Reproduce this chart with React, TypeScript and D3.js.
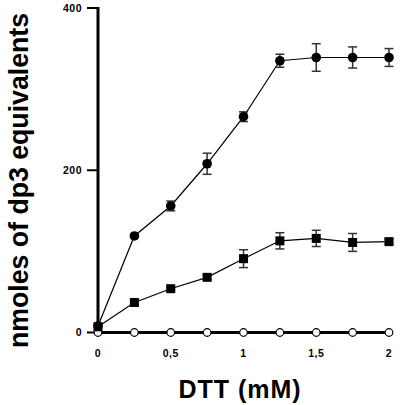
import React from "react";
import * as d3 from "d3";

const doses = [0, 0.25, 0.5, 0.75, 1, 1.25, 1.5, 1.75, 2];
const filledCircle = [8, 119, 156, 208, 266, 335, 339, 339, 339];
const filledCircleErr = [0, 2, 6, 13, 6, 8, 17, 13, 11];
const filledSquare = [7, 37, 54, 68, 91, 113, 116, 111, 112];
const filledSquareErr = [0, 3, 2, 3, 11, 10, 10, 11, 3];
const openCircle = [0, 0, 0, 0, 0, 0, 0, 0, 0];
const xTicks = [0, 0.5, 1, 1.5, 2];
const xTickLabels = ["0", "0,5", "1", "1,5", "2"];
const yTicks = [0, 200, 400];

const FONT = "Arial, 'Liberation Sans', Helvetica, sans-serif";

export default function App() {
  const x = d3.scaleLinear().domain([0, 2]).range([98, 389]);
  const y = d3.scaleLinear().domain([0, 400]).range([332.5, 8]);
  const line = d3
    .line<[number, number]>()
    .x((d) => x(d[0]))
    .y((d) => y(d[1]));
  const pts = (vals: number[]) => doses.map((d, i) => [d, vals[i]] as [number, number]);

  const errBars = (vals: number[], errs: number[], key: string) =>
    doses.map((d, i) =>
      errs[i] > 0 ? (
        <g key={key + i} stroke="#333" strokeWidth={1.5}>
          <line x1={x(d)} x2={x(d)} y1={y(vals[i] + errs[i])} y2={y(vals[i] - errs[i])} />
          <line x1={x(d) - 4.5} x2={x(d) + 4.5} y1={y(vals[i] + errs[i])} y2={y(vals[i] + errs[i])} />
          <line x1={x(d) - 4.5} x2={x(d) + 4.5} y1={y(vals[i] - errs[i])} y2={y(vals[i] - errs[i])} />
        </g>
      ) : null
    );

  return (
    <svg
      width={400}
      height={405}
      style={{ position: "absolute", left: 0, top: 0, background: "#fff" }}
      fontFamily={FONT}
    >
      <rect width={400} height={405} fill="#fff" />
      {/* axes */}
      <line x1={x(0)} x2={x(0)} y1={y(400) - 1} y2={y(0) + 1.5} stroke="#000" strokeWidth={3} />
      <line x1={x(0) - 1.5} x2={x(2)} y1={y(0)} y2={y(0)} stroke="#000" strokeWidth={3} />
      {yTicks.map((t) => (
        <g key={"yt" + t}>
          <line x1={x(0) - 11} x2={x(0)} y1={y(t)} y2={y(t)} stroke="#000" strokeWidth={2} />
          <text
            x={82}
            y={y(t)}
            dy="0.35em"
            textAnchor="end"
            fontSize={10.5}
            fontWeight="bold"
            letterSpacing={0.5}
            fill="#000"
          >
            {t}
          </text>
        </g>
      ))}
      {xTicks.map((t, i) => (
        <text
          key={"xt" + t}
          x={x(t)}
          y={357}
          textAnchor="middle"
          fontSize={10.5}
          fontWeight="bold"
          letterSpacing={0.5}
          fill="#000"
        >
          {xTickLabels[i]}
        </text>
      ))}
      {/* titles */}
      <text
        x={240}
        y={398}
        textAnchor="middle"
        fontSize={25}
        fontWeight="bold"
        letterSpacing={1}
        fill="#000"
      >
        DTT (mM)
      </text>
      <text
        transform={`translate(27.5,180.5) rotate(-90)`}
        textAnchor="middle"
        fontSize={28}
        fontWeight="bold"
        textLength={335}
        lengthAdjust="spacingAndGlyphs"
        fill="#000"
      >
        nmoles of dp3 equivalents
      </text>
      {/* lines */}
      <path d={line(pts(filledCircle)) || ""} fill="none" stroke="#000" strokeWidth={1.2} />
      <path d={line(pts(filledSquare)) || ""} fill="none" stroke="#000" strokeWidth={1.2} />
      <path d={line(pts(openCircle)) || ""} fill="none" stroke="#000" strokeWidth={2.5} />
      {/* error bars */}
      {errBars(filledCircle, filledCircleErr, "ec")}
      {errBars(filledSquare, filledSquareErr, "es")}
      {/* markers */}
      {doses.map((d, i) => (
        <circle key={"oc" + i} cx={x(d)} cy={y(openCircle[i])} r={3.8} fill="#fff" stroke="#000" strokeWidth={1.2} />
      ))}
      {doses.map((d, i) => (
        <circle key={"fc" + i} cx={x(d)} cy={y(filledCircle[i])} r={4.8} fill="#000" />
      ))}
      {doses.map((d, i) => (
        <rect key={"fs" + i} x={x(d) - 4.5} y={y(filledSquare[i]) - 4.5} width={9} height={9} fill="#000" />
      ))}
    </svg>
  );
}
